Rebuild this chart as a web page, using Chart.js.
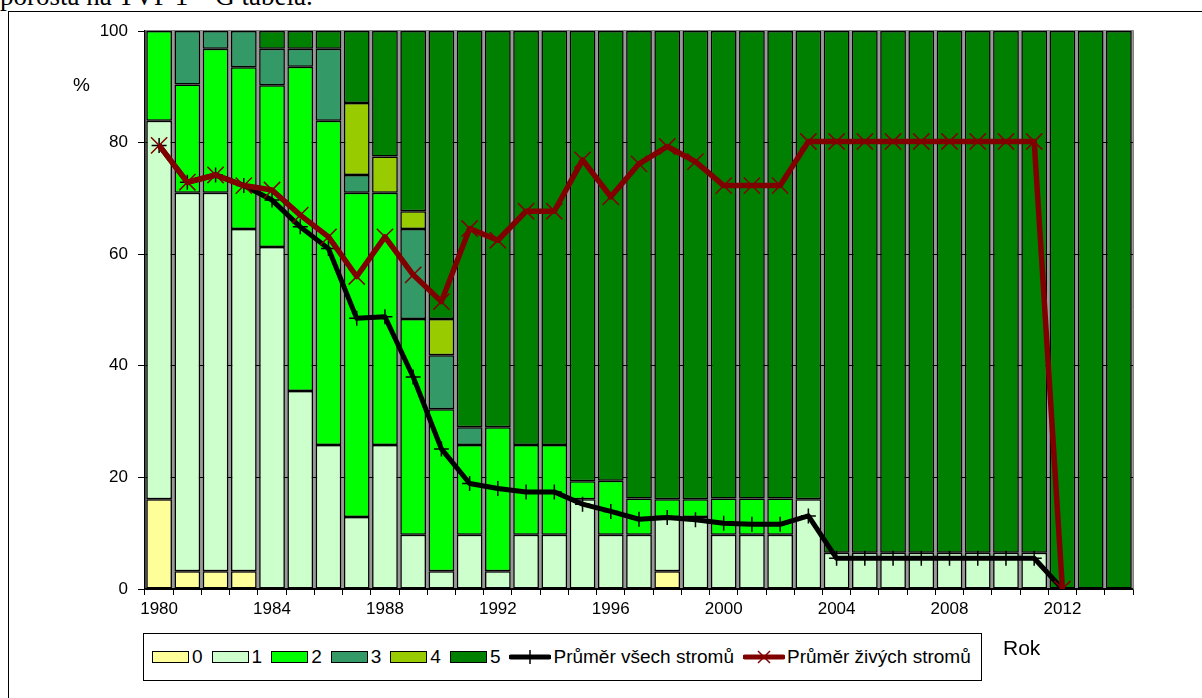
<!DOCTYPE html>
<html>
<head>
<meta charset="utf-8">
<script src="https://cdn.jsdelivr.net/npm/chart.js@4.4.1/dist/chart.umd.min.js"></script>
<style>
html,body{margin:0;padding:0;background:#fff;width:1202px;height:698px;overflow:hidden;font-family:"Liberation Sans",Arial,sans-serif;}
#cap{position:absolute;left:0;top:-17px;font-size:27px;line-height:27px;font-family:"Liberation Serif","Times New Roman",serif;white-space:nowrap;color:#000;}
#frame{position:absolute;left:8px;top:11px;width:1300px;height:800px;border:1px solid #000;box-sizing:border-box;}
#c{position:absolute;left:0;top:0;}
#pct{position:absolute;left:73px;top:73px;font-size:19px;line-height:24px;color:#000;}
#rok{position:absolute;left:1003px;top:635px;font-size:21px;line-height:26px;color:#000;}
#legend{position:absolute;left:143px;top:633px;width:839px;height:48px;border:1px solid #000;box-sizing:border-box;background:#fff;display:flex;align-items:center;padding-left:8px;font-size:19px;color:#000;white-space:nowrap;}
.it{display:flex;align-items:center;margin-right:9px;}
.sw{width:37px;height:12px;border:1.5px solid #000;box-sizing:border-box;margin-right:3px;}
.ln{width:42px;height:16px;margin-right:2px;}
</style>
</head>
<body>
<div id="cap">porosta na TVP 1 – G tabela.</div>
<div id="frame"></div>
<canvas id="c" width="1202" height="698"></canvas>
<div id="pct">%</div>
<div id="rok">Rok</div>
<div id="legend"></div>
<script>
// ---- data ----
const years = ['1980','1981','1982','1983','1984','1985','1986','1987','1988','1989',
  '1990','1991','1992','1993','1994','1995','1996','1997','1998','1999',
  '2000','2001','2002','2003','2004','2005','2006','2007','2008','2009',
  '2010','2011','2012','2013','2014'];
const tickYears = ['1980','1984','1988','1992','1996','2000','2004','2008','2012'];
const yTicks = [0,20,40,60,80,100];

const class0 = [16.1,3.2,3.2,3.2,0,0,0,0,0,0, 0,0,0,0,0,0,0,0,3.2,0, 0,0,0,0,0,0,0,0,0,0, 0,0,0,0,0];
const class1 = [67.8,67.8,67.8,61.3,61.3,35.5,25.8,12.9,25.8,9.7, 3.2,9.7,3.2,9.7,9.7,16.1,9.7,9.7,9.7,12.9, 9.7,9.7,9.7,16.1,6.5,6.5,6.5,6.5,6.5,6.5, 6.5,6.5,0,0,0];
const class2 = [16.1,19.4,25.8,29.0,29.0,58.1,58.1,58.1,45.2,38.7, 29.0,16.1,25.8,16.1,16.1,3.2,9.7,6.5,3.2,3.2, 6.5,6.5,6.5,0,0,0,0,0,0,0, 0,0,0,0,0];
const class3 = [0,9.6,3.2,6.5,6.5,3.2,12.9,3.2,0,16.1, 9.7,3.2,0,0,0,0,0,0,0,0, 0,0,0,0,0,0,0,0,0,0, 0,0,0,0,0];
const class4 = [0,0,0,0,0,0,0,12.9,6.5,3.2, 6.5,0,0,0,0,0,0,0,0,0, 0,0,0,0,0,0,0,0,0,0, 0,0,0,0,0];
const class5 = [0,0,0,0,3.2,3.2,3.2,12.9,22.5,32.3, 51.6,71.0,71.0,74.2,74.2,80.7,80.6,83.8,83.9,83.9, 83.8,83.8,83.8,83.9,93.5,93.5,93.5,93.5,93.5,93.5, 93.5,93.5,100,100,100];

const avgAll  = [79.5,72.9,74.2,72.3,69.7,64.9,61.0,48.5,48.8,38.0, 25.1,18.9,18.0,17.4,17.4,15.2,13.9,12.5,12.8,12.4, 11.8,11.6,11.6,13.1,5.5,5.5,5.5,5.5,5.5,5.5, 5.5,5.5,0,null,null];
const avgLive = [79.5,72.9,74.2,72.3,71.5,67.0,63.1,56.0,63.1,56.3, 51.5,64.6,62.5,67.7,67.7,76.9,70.3,76.2,79.3,76.6, 72.3,72.3,72.3,80.2,80.2,80.2,80.2,80.2,80.2,80.2, 80.2,80.2,0,null,null];

const classNames = ['0','1','2','3','4','5'];
const classData = [class0,class1,class2,class3,class4,class5];
const classColors = ['#FFFF99','#CCFFCC','#00FF00','#339966','#99CC00','#008000'];
const lineNames = ['Průměr všech stromů','Průměr živých stromů'];
const lineColors = ['#000000','#800000'];

// ---- datasets ----
const barSets = classData.map((arr,i)=>({
  type:'bar',
  label:classNames[i],
  data:arr.map(v=>v===0?null:v),
  backgroundColor:classColors[i],
  borderColor:'#000',
  borderWidth:1.5,
  borderSkipped:false,
  barPercentage:0.91,
  categoryPercentage:1.0,
  order:10+i
}));

const lineSets = [
  {type:'line',label:lineNames[0],data:avgAll,borderColor:lineColors[0],borderWidth:5,
   pointStyle:'cross',pointRadius:7.5,pointBorderWidth:1.5,pointBorderColor:lineColors[0],pointBackgroundColor:lineColors[0],
   tension:0,stack:'la',order:2,borderJoinStyle:'round',spanGaps:false},
  {type:'line',label:lineNames[1],data:avgLive,borderColor:lineColors[1],borderWidth:5.5,
   pointStyle:'crossRot',pointRadius:11.5,pointBorderWidth:1.5,pointBorderColor:lineColors[1],pointBackgroundColor:lineColors[1],
   tension:0,stack:'lb',order:1,borderJoinStyle:'round',spanGaps:false}
];

const plotFrame = {
  id:'plotFrame',
  beforeDraw(chart){
    const {ctx,chartArea:a}=chart;
    ctx.save();
    ctx.fillStyle='#999999';
    ctx.fillRect(a.left,a.top,a.right-a.left,a.bottom-a.top);
    ctx.restore();
  },
  afterDraw(chart){
    const {ctx,chartArea:a}=chart;
    ctx.save();
    ctx.strokeStyle='#808080';
    ctx.lineWidth=1;
    ctx.beginPath();
    ctx.moveTo(a.left,a.top-0.5);ctx.lineTo(a.right+0.5,a.top-0.5);ctx.lineTo(a.right+0.5,a.bottom);
    ctx.stroke();
    ctx.restore();
  }
};

Chart.defaults.font.family='"Liberation Sans", Arial, sans-serif';
Chart.defaults.color='#000';

new Chart(document.getElementById('c'),{
  data:{labels:years,datasets:[...lineSets,...barSets]},
  options:{
    responsive:false,animation:false,devicePixelRatio:1,
    layout:{padding:{left:75,right:69,top:31,bottom:69}},
    plugins:{legend:{display:false},tooltip:{enabled:false}},
    scales:{
      x:{
        stacked:true,offset:true,
        grid:{offset:true,drawOnChartArea:false,drawTicks:true,tickLength:6,tickColor:'#000',tickWidth:1},
        border:{display:true,color:'#000',width:1.5},
        ticks:{autoSkip:false,maxRotation:0,minRotation:0,padding:4,font:{size:17},color:'#000',
          callback:function(v){const l=this.getLabelForValue(v);return tickYears.includes(l)?l:'';}},
        afterFit(s){s.height=40;}
      },
      y:{
        stacked:true,min:yTicks[0],max:yTicks[yTicks.length-1],
        afterBuildTicks(s){s.ticks=yTicks.map(v=>({value:v}));},
        grid:{color:(c)=>c.tick&&c.tick.value===100?'rgba(0,0,0,0)':'#000',lineWidth:1,tickLength:7,tickColor:'#000',tickWidth:1},
        border:{display:true,color:'#000',width:1.5},
        ticks:{padding:10,font:{size:17},color:'#000'},
        afterFit(s){s.width=70;}
      }
    }
  },
  plugins:[plotFrame]
});

// ---- legend (HTML) ----
const lg=document.getElementById('legend');
classNames.forEach((n,i)=>{
  const it=document.createElement('div');it.className='it';
  const sw=document.createElement('div');sw.className='sw';sw.style.background=classColors[i];
  const t=document.createElement('span');t.textContent=n;
  it.appendChild(sw);it.appendChild(t);lg.appendChild(it);
});
lineNames.forEach((n,i)=>{
  const it=document.createElement('div');it.className='it';
  const ns='http://www.w3.org/2000/svg';
  const svg=document.createElementNS(ns,'svg');svg.setAttribute('class','ln');svg.setAttribute('width','42');svg.setAttribute('height','16');
  const l=document.createElementNS(ns,'line');
  l.setAttribute('x1','2');l.setAttribute('x2','40');l.setAttribute('y1','8');l.setAttribute('y2','8');
  l.setAttribute('stroke',lineColors[i]);l.setAttribute('stroke-width','5');l.setAttribute('stroke-linecap','round');
  svg.appendChild(l);
  const mk=(x1,y1,x2,y2)=>{const m=document.createElementNS(ns,'line');m.setAttribute('x1',x1);m.setAttribute('y1',y1);m.setAttribute('x2',x2);m.setAttribute('y2',y2);m.setAttribute('stroke',lineColors[i]);m.setAttribute('stroke-width','1.5');svg.appendChild(m);};
  if(i===0){mk(21,1,21,15);}else{mk(15,2,27,14);mk(27,2,15,14);}
  const t=document.createElement('span');t.textContent=n;
  it.appendChild(svg);it.appendChild(t);lg.appendChild(it);
});
</script>
</body>
</html>
